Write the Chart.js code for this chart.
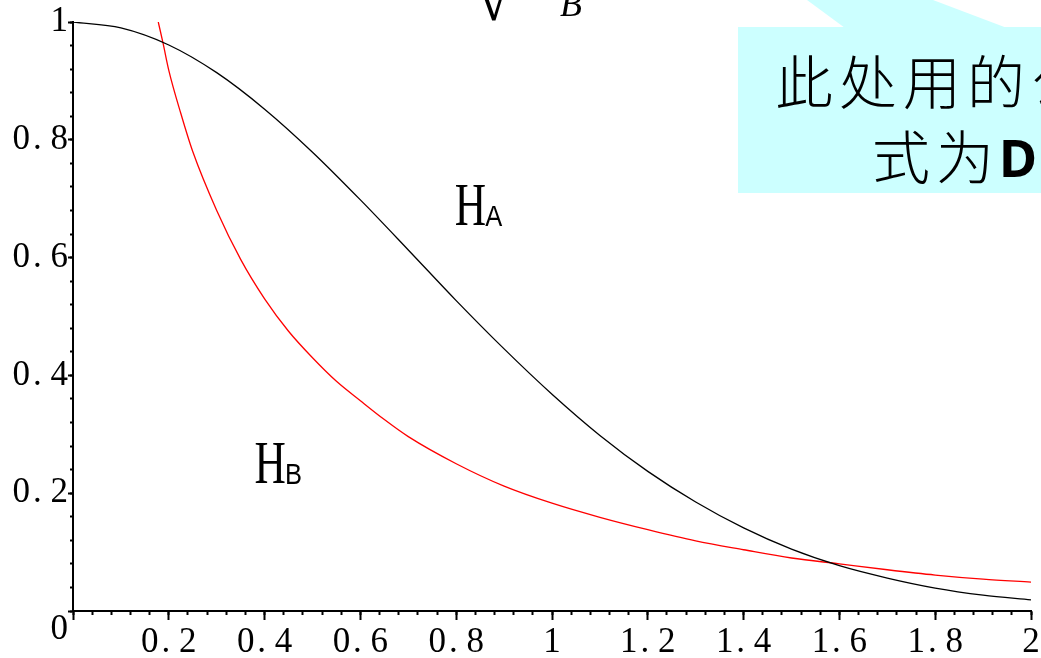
<!DOCTYPE html>
<html><head><meta charset="utf-8">
<script src="https://cdn.jsdelivr.net/npm/chart.js@4.4.1/dist/chart.umd.min.js"></script>
<style>html,body{margin:0;padding:0;background:#fff;overflow:hidden}#wrap{position:relative;width:1041px;height:658px}</style>
</head><body><div id="wrap"><canvas id="c"></canvas></div>
<script>
// ---- data ----
const haX = [0,0.1,0.2,0.3,0.4,0.5,0.6,0.7,0.8,0.9,1.0,1.1,1.2,1.3,1.4,1.5,1.6,1.7,1.8,1.9,2.0];
const haY = [1.0,0.99,0.961,0.914,0.852,0.779,0.698,0.613,0.527,0.445,0.368,0.298,0.237,0.185,0.141,0.105,0.077,0.056,0.039,0.027,0.019];
const hbX = [0.178,0.188,0.2,0.225,0.25,0.3,0.35,0.4,0.45,0.5,0.55,0.6,0.65,0.7,0.8,0.9,1.0,1.1,1.2,1.3,1.4,1.5,1.6,1.7,1.8,1.9,2.0];
const hbY = [1.0,0.964,0.918,0.845,0.78,0.68,0.597,0.53,0.475,0.43,0.39,0.357,0.325,0.296,0.25,0.212,0.183,0.159,0.138,0.119,0.104,0.090,0.080,0.070,0.061,0.054,0.049];
const xTickVals = [0.2,0.4,0.6,0.8,1.0,1.2,1.4,1.6,1.8,2.0];
const xTickLabels = ['0\u200A. 2','0\u200A. 4','0\u200A. 6','0\u200A. 8','1','1\u200A. 2','1\u200A. 4','1\u200A. 6','1\u200A. 8','2'];
const yTickVals = [0,0.2,0.4,0.6,0.8,1.0];
const yTickLabels = [['','0'],'0\u200A. 2','0\u200A. 4','0\u200A. 6','0\u200A. 8','1'];
const seriesNames = ['H_A','H_B'];

function lab(v, vals, labels){
  for (let i=0;i<vals.length;i++){ if (Math.abs(vals[i]-v)<1e-6) return labels[i]; }
  return '';
}
const serif = '"Liberation Serif", "Times New Roman", serif';

const annot = {
  id:'annot',
  afterDraw(chart){
    const ctx = chart.ctx, xs = chart.scales.x, ys = chart.scales.y;
    ctx.save();
    // callout box
    ctx.fillStyle = '#ccffff';
    ctx.beginPath(); ctx.moveTo(807,0); ctx.lineTo(933,0); ctx.lineTo(1007,28); ctx.lineTo(845,28); ctx.closePath(); ctx.fill();
    ctx.fillRect(738,27,310,166);
    ctx.fillStyle = '#000';
    ctx.textBaseline = 'alphabetic'; ctx.textAlign = 'left';
    ctx.font = '300 58px "Noto Sans CJK SC"';
    try { ctx.letterSpacing = '6px'; } catch(e){}
    ctx.fillText('此处用的公', 775, 104);
    ctx.fillText('式为', 872, 179);
    try { ctx.letterSpacing = '0px'; } catch(e){}
    ctx.font = 'bold 52px "Noto Sans"';
    ctx.fillText('D', 999, 177);
    // partial formula at top
    ctx.font = '64px ' + serif;
    ctx.fillText('\u221A', 476, 20);
    ctx.font = 'italic 36px ' + serif;
    ctx.fillText('B', 560, 16);
    // H labels
    function hl(sub, xv, yv){
      const x = xs.getPixelForValue(xv), y = ys.getPixelForValue(yv);
      ctx.save(); ctx.translate(x, y); ctx.scale(0.7,1); ctx.font = '62px ' + serif; ctx.fillText('H',0,0); ctx.restore();
      ctx.save(); ctx.translate(x+30.5, y+1); ctx.scale(0.85,1); ctx.font = '30px "Liberation Sans"'; ctx.fillText(sub,0,0); ctx.restore();
    }
    hl('A', 0.797, 0.656);
    hl('B', 0.379, 0.218);
    ctx.restore();
  }
};

new Chart(document.getElementById('c'), {
  type:'line',
  data:{
    datasets:[
      {label:seriesNames[0], data:haX.map((x,i)=>({x:x,y:haY[i]})), borderColor:'#000000', borderWidth:1.3, pointRadius:0, fill:false, cubicInterpolationMode:'monotone', xAxisID:'x', yAxisID:'y'},
      {label:seriesNames[1], data:hbX.map((x,i)=>({x:x,y:hbY[i]})), borderColor:'#ff0000', borderWidth:1.3, pointRadius:0, fill:false, cubicInterpolationMode:'monotone', xAxisID:'x', yAxisID:'y'}
    ]
  },
  options:{
    responsive:true, maintainAspectRatio:false, animation:false,
    layout:{padding:{top:22,right:10,left:0,bottom:0}},
    plugins:{legend:{display:false}, tooltip:{enabled:false}},
    scales:{
      x:{type:'linear', position:'bottom', weight:1, min:0, max:2,
        ticks:{stepSize:0.2, autoSkip:false, maxRotation:0, padding:2, color:'#000', font:{family:serif, size:35},
          callback:(v)=>lab(v, xTickVals, xTickLabels)},
        grid:{drawOnChartArea:false, drawTicks:true, tickLength:9, color:'#000', tickWidth:2},
        border:{display:true, color:'#000', width:2},
        afterFit:(s)=>{ s.height = 47; s.paddingLeft = 0; s.paddingRight = 0; }
      },
      xm:{type:'linear', position:'bottom', weight:0, min:0, max:2,
        ticks:{display:false, stepSize:0.04},
        grid:{drawOnChartArea:false, drawTicks:true, tickLength:4, color:'#000', tickWidth:2},
        border:{display:false},
        afterFit:(s)=>{ s.height = 0; s.paddingLeft = 0; s.paddingRight = 0; }
      },
      y:{type:'linear', position:'left', weight:1, min:0, max:1,
        ticks:{stepSize:0.2, autoSkip:false, padding:0, color:'#000', font:{family:serif, size:35, lineHeight:1.05},
          callback:(v)=>lab(v, yTickVals, yTickLabels)},
        grid:{drawOnChartArea:false, drawTicks:true, tickLength:5, color:'#000', tickWidth:2},
        border:{display:true, color:'#000', width:2},
        afterFit:(s)=>{ s.width = 73; s.paddingTop = 0; s.paddingBottom = 0; }
      },
      ym:{type:'linear', position:'left', weight:0, min:0, max:1,
        ticks:{display:false, stepSize:0.04},
        grid:{drawOnChartArea:false, drawTicks:true, tickLength:3, color:'#000', tickWidth:2},
        border:{display:false},
        afterFit:(s)=>{ s.width = 0; s.paddingTop = 0; s.paddingBottom = 0; }
      }
    }
  },
  plugins:[annot]
});
</script></body></html>
